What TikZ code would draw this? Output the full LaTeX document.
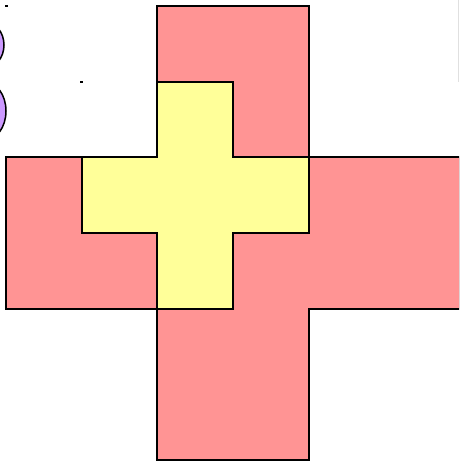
\documentclass[tikz,border=0pt]{standalone}
\usepackage{tikz}
\definecolor{salmon}{HTML}{FF9494}
\definecolor{lemon}{HTML}{FFFF99}
\definecolor{lilac}{HTML}{CC99FF}
\tikzset{
  shp/.style={draw=black, fill=#1, line width=1.5pt, line join=miter},
  shp/.default=salmon,
  dot/.style={fill=black},
  edge/.style={draw=black!12, line width=0.8pt},
}
\begin{document}
\begin{tikzpicture}[x=1pt, y=-1pt]
    \useasboundingbox (0,0) rectangle (459,462);
    \clip (0,0) rectangle (459,462);
    % ovals cut by the left edge
    \draw[shp=lilac] (-15,45) ellipse [x radius=19, y radius=23];
    \draw[shp=lilac] (-15,111) ellipse [x radius=21, y radius=29];
    % big cross
    \draw[shp=salmon] (157,6) -- (309,6) -- (309,157) -- (460,157) -- (460,309)
        -- (309,309) -- (309,460) -- (157,460) -- (157,309) -- (6,309)
        -- (6,157) -- (157,157) -- cycle;
    % small cross
    \draw[shp=lemon] (157,82) -- (233,82) -- (233,157) -- (309,157) -- (309,233)
        -- (233,233) -- (233,309) -- (157,309) -- (157,233) -- (82,233)
        -- (82,157) -- (157,157) -- cycle;
    % stray marks
    \fill[dot] (5,5) rectangle (7.5,7);
    \fill[dot] (80,81) rectangle (83,83);
    \draw[edge] (458,0) -- (458,82);
\end{tikzpicture}
\end{document}
